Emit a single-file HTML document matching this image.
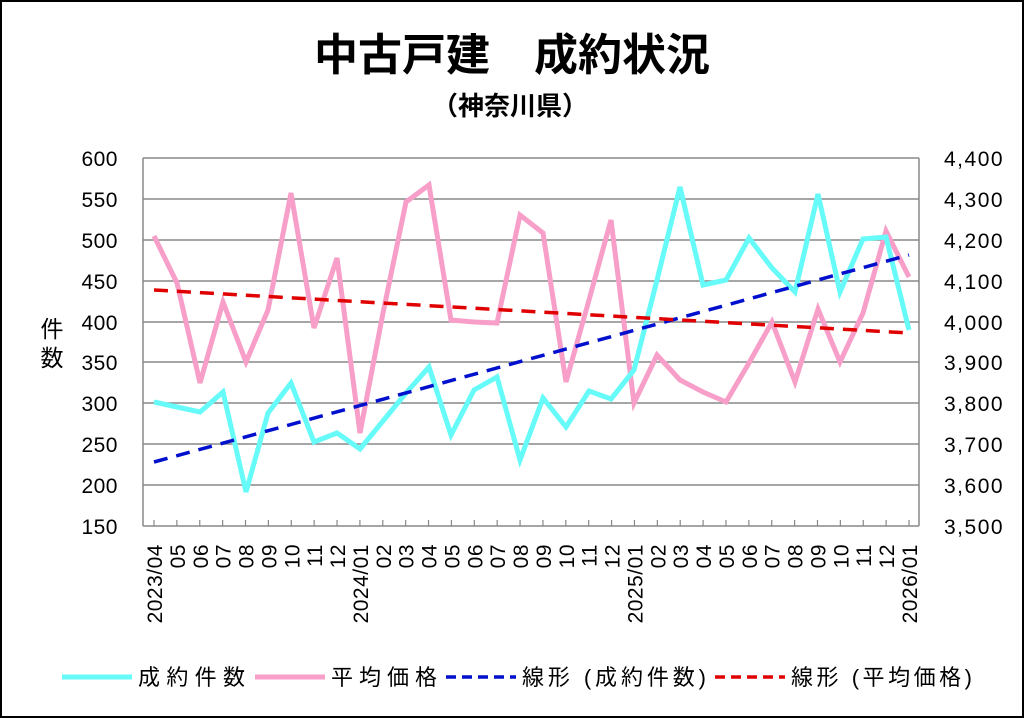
<!DOCTYPE html>
<html><head><meta charset="utf-8"><style>
html,body{margin:0;padding:0;background:#fff}
svg{display:block}
text{font-family:"Liberation Sans","Noto Sans CJK JP",sans-serif}
</style></head><body>
<svg width="1024" height="718" viewBox="0 0 1024 718">
<rect x="1" y="1" width="1022" height="716" fill="#fff" stroke="#000" stroke-width="2"/>
<text x="512" y="70" text-anchor="middle" font-size="44" font-weight="bold">中古戸建　成約状況</text>
<text x="510" y="115" text-anchor="middle" font-size="26" font-weight="bold">（神奈川県）</text>
<g stroke="#888" stroke-width="1.5">
<line x1="143" y1="158" x2="919" y2="158"/><line x1="143" y1="199" x2="919" y2="199"/>
<line x1="143" y1="240" x2="919" y2="240"/><line x1="143" y1="281" x2="919" y2="281"/>
<line x1="143" y1="322" x2="919" y2="322"/><line x1="143" y1="362" x2="919" y2="362"/>
<line x1="143" y1="403" x2="919" y2="403"/><line x1="143" y1="444" x2="919" y2="444"/>
<line x1="143" y1="485" x2="919" y2="485"/><line x1="143" y1="526" x2="919" y2="526"/>
<line x1="143" y1="158" x2="143" y2="526"/><line x1="919" y1="158" x2="919" y2="526"/>
</g>
<g stroke="#888" stroke-width="1.2" id="ticks"></g>
<g font-size="21" text-anchor="end" letter-spacing="0.5">
<text x="118" y="166">600</text><text x="118" y="207">550</text><text x="118" y="248">500</text>
<text x="118" y="289">450</text><text x="118" y="330">400</text><text x="118" y="370">350</text>
<text x="118" y="411">300</text><text x="118" y="452">250</text><text x="118" y="493">200</text><text x="118" y="534">150</text>
</g>
<g font-size="21" letter-spacing="1.5">
<text x="944" y="166">4,400</text><text x="944" y="207">4,300</text><text x="944" y="248">4,200</text>
<text x="944" y="289">4,100</text><text x="944" y="330">4,000</text><text x="944" y="370">3,900</text>
<text x="944" y="411">3,800</text><text x="944" y="452">3,700</text><text x="944" y="493">3,600</text><text x="944" y="534">3,500</text>
</g>
<text x="52" y="337" text-anchor="middle" font-size="23">件</text>
<text x="52" y="366" text-anchor="middle" font-size="23">数</text>
<g id="xl" font-size="21" letter-spacing="0.5"></g>
<polyline fill="none" stroke="#f79fc8" stroke-width="5" points="154,236 177,283 200,383 223,302 246,362 268,310 291,193 314,328 337,258 360,433 383,313 406,202 429,185 451,320 474,322 497,323 520,215 543,233 566,382 589,300 611,220 634,403 657,355 680,380 703,392 726,402 749,363 772,322 795,382 818,309 840,362 863,313 886,231 909,277"/>
<polyline fill="none" stroke="#66fbf8" stroke-width="5" points="154,402 177,407 200,412 223,392 246,492 268,413 291,383 314,442 337,433 360,449 383,421 406,393 429,367 451,435 474,390 497,377 520,460 543,398 566,427 589,391 611,399 634,370 657,280 680,187 703,285 726,280 749,238 772,268 795,292 818,194 840,292 863,239 886,237 909,330"/>
<line x1="154" y1="462" x2="909" y2="255" stroke="#0010cc" stroke-width="3.5" stroke-dasharray="14,9"/>
<line x1="154" y1="290" x2="909" y2="333" stroke="#e00000" stroke-width="3.5" stroke-dasharray="14,9"/>
<g font-size="22">
<line x1="62" y1="677" x2="132" y2="677" stroke="#66fbf8" stroke-width="5"/>
<text x="138" y="685" textLength="107">成約件数</text>
<line x1="255" y1="677" x2="325" y2="677" stroke="#f79fc8" stroke-width="5"/>
<text x="331" y="685" textLength="106">平均価格</text>
<line x1="446" y1="677" x2="516" y2="677" stroke="#0010cc" stroke-width="3.5" stroke-dasharray="10,6"/>
<text x="522" y="685" textLength="184">線形 (成約件数)</text>
<line x1="715" y1="677" x2="785" y2="677" stroke="#e00000" stroke-width="3.5" stroke-dasharray="10,6"/>
<text x="791" y="685" textLength="181">線形 (平均価格)</text>
</g>
<script>
var t=document.getElementById('ticks'),xl=document.getElementById('xl'),ns='http://www.w3.org/2000/svg';
var labs=['2023/04','05','06','07','08','09','10','11','12','2024/01','02','03','04','05','06','07','08','09','10','11','12','2025/01','02','03','04','05','06','07','08','09','10','11','12','2026/01'];
for(var i=0;i<34;i++){var x=154+i*(755/33);
var l=document.createElementNS(ns,'line');l.setAttribute('x1',x);l.setAttribute('x2',x);l.setAttribute('y1',520);l.setAttribute('y2',526);t.appendChild(l);
var tx=document.createElementNS(ns,'text');tx.setAttribute('text-anchor','end');tx.setAttribute('transform','translate('+(x+8)+',544) rotate(-90)');tx.textContent=labs[i];xl.appendChild(tx);}
</script>
</svg>
</body></html>
